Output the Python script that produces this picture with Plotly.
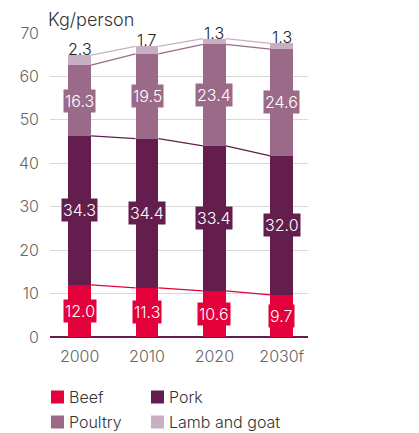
import plotly.graph_objects as go

# Per-capita meat consumption, kg/person
years = ["2000", "2010", "2020", "2030f"]
beef = [12.0, 11.3, 10.6, 9.7]
pork = [34.3, 34.4, 33.4, 32.0]
poultry = [16.3, 19.5, 23.4, 24.6]
lamb_goat = [2.3, 1.7, 1.3, 1.3]

series_names = ["Beef", "Pork", "Poultry", "Lamb and goat"]
series_values = [beef, pork, poultry, lamb_goat]
colors = ["#E4003B", "#641E4E", "#9B6A88", "#C9AFC2"]

FONT = "Inter"
FW = 300
FS = 16
BAR_W = 0.34
xpos = list(range(len(years)))

fig = go.Figure()

# running base of each stacked segment
bases = []
running = [0.0] * len(years)
for vals in series_values:
    bases.append(running[:])
    running = [r + v for r, v in zip(running, vals)]

# connector lines between tops of consecutive bars
for name, vals, base, col in zip(series_names, series_values, bases, colors):
    tops = [b + v for b, v in zip(base, vals)]
    lx, ly = [], []
    for i in range(len(years) - 1):
        lx += [xpos[i] + BAR_W / 2, xpos[i + 1] - BAR_W / 2, None]
        ly += [tops[i], tops[i + 1], None]
    fig.add_trace(go.Scatter(x=lx, y=ly, mode="lines",
                             line=dict(color=col, width=1.3),
                             hoverinfo="skip", showlegend=False))

for name, vals, col in zip(series_names, series_values, colors):
    fig.add_trace(go.Bar(x=xpos, y=vals, name=name, width=BAR_W,
                         marker=dict(color=col, line=dict(width=0)),
                         showlegend=False))

annotations = []
# value boxes inside the first three segments
for k in range(3):
    for i in xpos:
        v = series_values[k][i]
        annotations.append(dict(
            x=i, y=bases[k][i] + v / 2, xref="x", yref="y",
            text=f"{v:.1f}", showarrow=False,
            font=dict(family=FONT, size=FS, color="white", weight=FW),
            bgcolor=colors[k], borderpad=1))
# lamb and goat values above the stacks
for i in xpos:
    v = lamb_goat[i]
    annotations.append(dict(
        x=i, y=bases[3][i] + v, xref="x", yref="y",
        text=f"{v:.1f}", showarrow=False, yanchor="bottom", yshift=-6,
        font=dict(family=FONT, size=FS, color="#222222", weight=FW)))

annotations.append(dict(
    x=0, y=1, xref="paper", yref="paper", xanchor="left", yanchor="bottom",
    xshift=-4, yshift=1, text="Kg/person", showarrow=False,
    font=dict(family=FONT, size=18, color="#333333", weight=FW)))

# legend drawn as swatches + labels below the axis
shapes = []
legend_slots = [(51, 397), (151, 397), (51, 422), (151, 422)]
W, H = 419, 433
L, R, T, B = 50, 111, 33, 96
pw, ph = W - L - R, H - T - B
for (px, py), name, col in zip(legend_slots, series_names, colors):
    x0 = (px - L) / pw
    x1 = (px + 13 - L) / pw
    y0 = (H - B - (py + 6.5)) / ph
    y1 = (H - B - (py - 6.5)) / ph
    shapes.append(dict(type="rect", xref="paper", yref="paper",
                       x0=x0, x1=x1, y0=y0, y1=y1,
                       fillcolor=col, line=dict(width=0)))
    annotations.append(dict(
        x=(px + 16 - L) / pw, y=(H - B - py) / ph, xref="paper", yref="paper",
        xanchor="left", yanchor="middle", text=name, showarrow=False,
        font=dict(family=FONT, size=FS, color="#333333", weight=FW)))

fig.update_layout(
    width=W, height=H,
    margin=dict(l=L, r=R, t=T, b=B),
    barmode="stack",
    plot_bgcolor="white", paper_bgcolor="white",
    showlegend=False,
    font=dict(family=FONT, size=FS, color="#666666", weight=FW),
    annotations=annotations,
    shapes=shapes,
    xaxis=dict(range=[-0.44, 3.39], tickmode="array", tickvals=xpos,
               ticktext=years, showgrid=False, zeroline=False,
               showline=False, ticks="", ticklabelstandoff=8,
               tickfont=dict(family=FONT, size=FS, color="#666666", weight=FW),
               fixedrange=True),
    yaxis=dict(range=[0, 70], tickvals=[0, 10, 20, 30, 40, 50, 60, 70],
               showgrid=True, gridcolor="#D9D9D9", gridwidth=1.2,
               zeroline=True, zerolinecolor="#641E4E", zerolinewidth=1.5,
               showline=False, ticks="", ticklabelstandoff=10,
               tickfont=dict(family=FONT, size=FS, color="#666666", weight=FW),
               fixedrange=True),
)

fig.write_html("out.html")
